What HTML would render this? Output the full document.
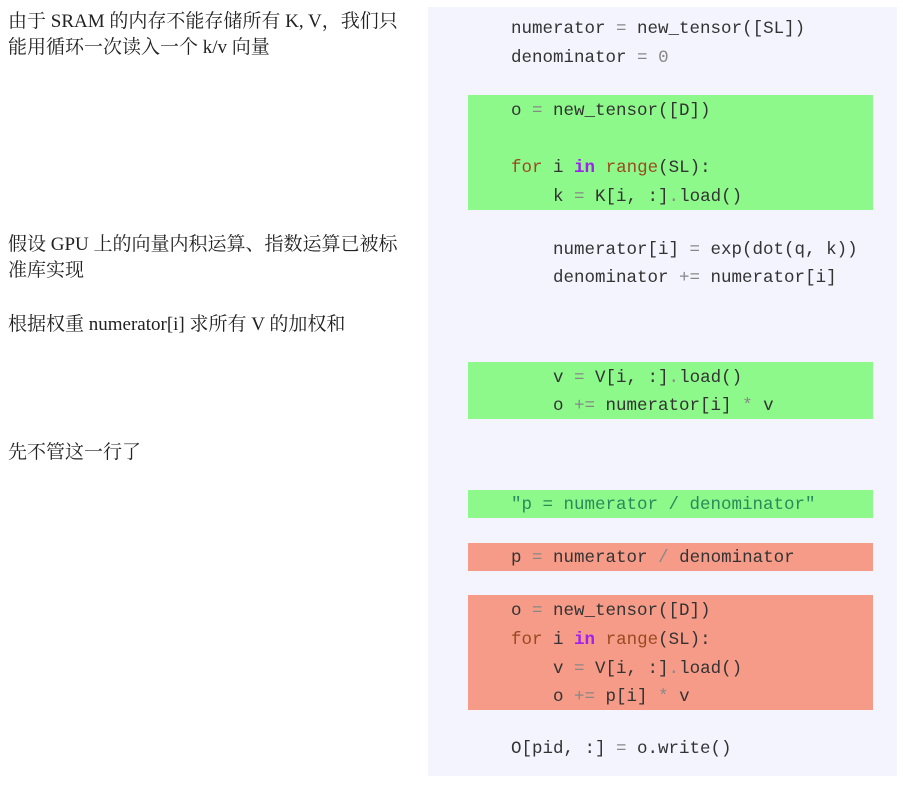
<!DOCTYPE html>
<html><head><meta charset="utf-8"><style>
body{margin:0;width:903px;height:786px;background:#fff;position:relative;overflow:hidden}
.t{position:absolute;left:8px;font-family:"Liberation Serif","Noto Serif CJK SC",serif;font-size:19px;color:#222;line-height:26px}
.panel{position:absolute;left:428px;top:7px;width:469px;height:769px;background:#f3f4fd}
.box{position:absolute;left:468px;width:405px}
.g{background:#8df98a}.r{background:#f59b88}
.c{position:absolute;left:511px;font-family:"Liberation Mono",monospace;font-size:17.5px;color:#333;white-space:pre;line-height:20px}
.k{color:#9a4a20}.p{color:#a020f0;font-weight:bold}.o{color:#888}.s{color:#2a8a5a}
</style></head><body>
<div class="t" style="top:9px">由于 SRAM 的内存不能存储所有 K, V，我们只<br>能用循环一次读入一个 k/v 向量</div>
<div class="t" style="top:232px">假设 GPU 上的向量内积运算、指数运算已被标<br>准库实现</div>
<div class="t" style="top:312px">根据权重 numerator[i] 求所有 V 的加权和</div>
<div class="t" style="top:440px">先不管这一行了</div>
<div class="panel"></div>
<div class="box g" style="top:95px;height:115px"></div>
<div class="box g" style="top:362px;height:57px"></div>
<div class="box g" style="top:490px;height:28px"></div>
<div class="box r" style="top:543px;height:28px"></div>
<div class="box r" style="top:595px;height:115px"></div>
<div class="c" style="top:19px">numerator <span class="o">=</span> new_tensor([SL])</div>
<div class="c" style="top:48px">denominator <span class="o">=</span> <span class="o">0</span></div>
<div class="c" style="top:101px">o <span class="o">=</span> new_tensor([D])</div>
<div class="c" style="top:158px"><span class="k">for</span> i <span class="p">in</span> <span class="k">range</span>(SL):</div>
<div class="c" style="top:187px">    k <span class="o">=</span> K[i, :]<span class="o">.</span>load()</div>
<div class="c" style="top:240px">    numerator[i] <span class="o">=</span> exp(dot(q, k))</div>
<div class="c" style="top:268px">    denominator <span class="o">+=</span> numerator[i]</div>
<div class="c" style="top:368px">    v <span class="o">=</span> V[i, :]<span class="o">.</span>load()</div>
<div class="c" style="top:396px">    o <span class="o">+=</span> numerator[i] <span class="o">*</span> v</div>
<div class="c s" style="top:495px">"p = numerator / denominator"</div>
<div class="c" style="top:548px">p <span class="o">=</span> numerator <span class="o">/</span> denominator</div>
<div class="c" style="top:601px">o <span class="o">=</span> new_tensor([D])</div>
<div class="c" style="top:630px"><span class="k">for</span> i <span class="p">in</span> <span class="k">range</span>(SL):</div>
<div class="c" style="top:659px">    v <span class="o">=</span> V[i, :]<span class="o">.</span>load()</div>
<div class="c" style="top:687px">    o <span class="o">+=</span> p[i] <span class="o">*</span> v</div>
<div class="c" style="top:739px">O[pid, :] <span class="o">=</span> o.write()</div>
</body></html>
